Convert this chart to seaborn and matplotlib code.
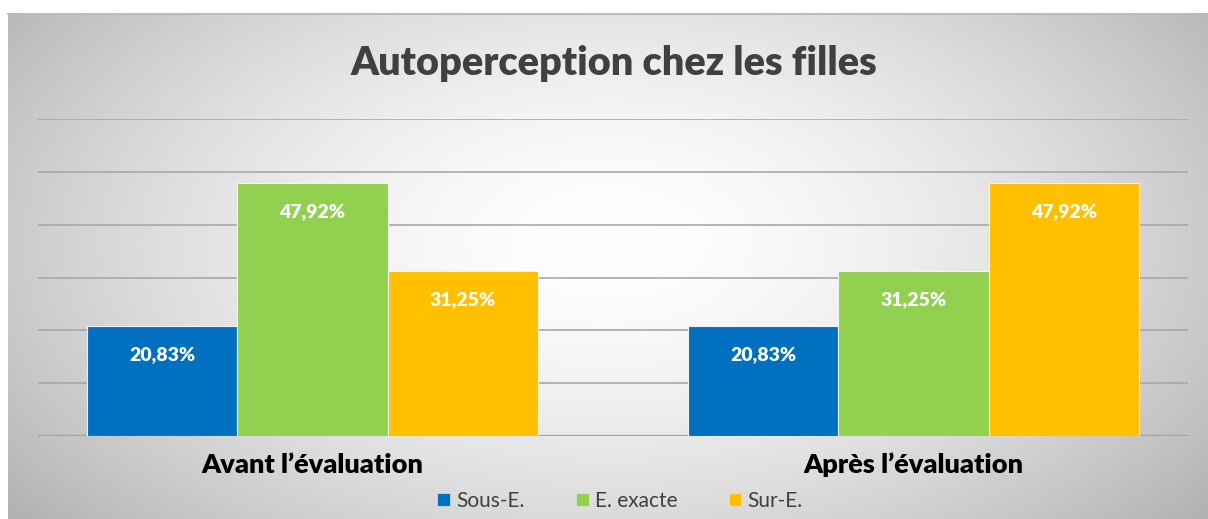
import numpy as np
import pandas as pd
import matplotlib
matplotlib.use("Agg")
import matplotlib.pyplot as plt
import seaborn as sns
from matplotlib.patches import Patch

categories = ["Avant l\u2019évaluation", "Après l\u2019évaluation"]
series = ["Sous-E.", "E. exacte", "Sur-E."]
sous_e = [20.83, 20.83]
e_exacte = [47.92, 31.25]
sur_e = [31.25, 47.92]
colors = ["#0070C0", "#92D050", "#FFC000"]

df = pd.DataFrame({
    "cat": categories * 3,
    "serie": [series[0]] * 2 + [series[1]] * 2 + [series[2]] * 2,
    "val": sous_e + e_exacte + sur_e,
})

sns.set_style("white")
plt.rcParams["font.family"] = ["Lato", "DejaVu Sans"]

W, H = 1208, 519
fig = plt.figure(figsize=(W / 100, H / 100), dpi=100)
fig.patch.set_facecolor("white")

# background gradient panel
bg = fig.add_axes([8 / W, 0, 1 - 8 / W, (H - 14) / H], zorder=0)
ny, nx = 300, 700
yy, xx = np.mgrid[0:ny, 0:nx]
cx, cy = nx * 0.5, ny * 0.45
d = np.sqrt(((xx - cx) / (nx * 0.55)) ** 2 + ((yy - cy) / (ny * 0.75)) ** 2)
val = 1.0 - 0.24 * np.clip(d, 0, 1.3) ** 1.6
img = np.dstack([val, val, val])
bg.imshow(img, aspect="auto", extent=[0, 1, 0, 1], origin="upper")
bg.set_axis_off()
bg.plot([0, 1], [1, 1], color="#bcbcbc", lw=1.5, transform=bg.transAxes, clip_on=False)

ax = fig.add_axes([38 / W, 83 / H, (1188 - 38) / W, (436 - 119) / H], zorder=1)
ax.patch.set_alpha(0)

sns.barplot(data=df, x="cat", y="val", hue="serie", hue_order=series,
            palette=colors, width=0.75, ax=ax, legend=False,
            edgecolor="#f2f2f2", linewidth=0.8, saturation=1)

ax.set_xlim(-0.457, 1.457)
ax.set_ylim(0, 60)
ax.set_yticks(np.arange(0, 61, 10))
ax.yaxis.grid(True, color="#a8a8a8", lw=1.2)
ax.set_axisbelow(True)
for s in ax.spines.values():
    s.set_visible(False)
ax.axhline(0, color="#909090", lw=1.6, zorder=0.5)
ax.tick_params(axis="y", length=0, labelleft=False)
ax.tick_params(axis="x", length=0, pad=12)
ax.set_xlabel("")
ax.set_ylabel("")
for lbl in ax.get_xticklabels():
    lbl.set_fontsize(19.5)
    lbl.set_fontweight("heavy")
    lbl.set_color("black")

for cont in ax.containers:
    for bar in cont:
        h = bar.get_height()
        ax.annotate(f"{h:.2f}%".replace(".", ","),
                    (bar.get_x() + bar.get_width() / 2, h),
                    xytext=(0, -29), textcoords="offset pixels",
                    ha="center", va="center", color="white",
                    fontsize=14, fontweight="heavy")

fig.text(614 / W, 1 - 63 / H, "Autoperception chez les filles",
         ha="center", va="center", fontsize=28.5, fontweight="heavy", color="#404040")

handles = [Patch(facecolor=c, edgecolor="#dde8f0", lw=0.5) for c in colors]
fig.legend(handles, series, loc="center", bbox_to_anchor=(620 / W, 1 - 501 / H),
           ncol=3, frameon=False, fontsize=15, handlelength=0.62, handleheight=0.62,
           handletextpad=0.3, columnspacing=2.45, labelcolor="#404040")

fig.savefig("out.png", dpi=100)
